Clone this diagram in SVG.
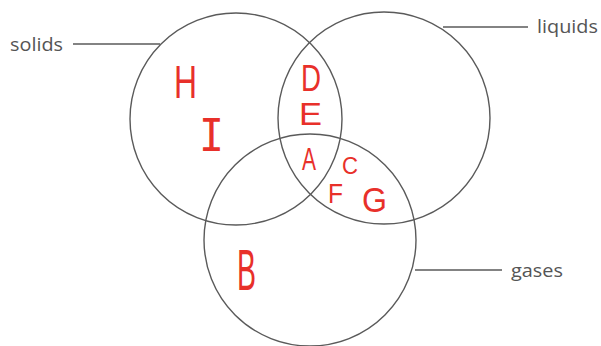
<svg xmlns="http://www.w3.org/2000/svg" width="601" height="346" viewBox="0 0 601 346">
<style>
.c{fill:none;stroke:#5a5a5a;stroke-width:1.4}
.l{stroke:#5a5a5a;stroke-width:1.4}
.t{font-family:"Open Sans","DejaVu Sans",sans-serif;font-size:19px;fill:#555}
.r{font-family:"Liberation Sans",Arial,sans-serif;fill:#e8302a}
.m{font-family:"DejaVu Sans Mono","Liberation Mono",monospace;fill:#e8302a}
</style>
<rect width="601" height="346" fill="#fff"/>
<g id="solids">
<circle class="c" cx="236" cy="119" r="106"/>
<text class="t" x="10" y="51" textLength="53" lengthAdjust="spacingAndGlyphs">solids</text>
</g>
<g id="liquids">
<circle class="c" cx="384" cy="118" r="106"/>
<text class="t" x="537" y="33" textLength="61" lengthAdjust="spacingAndGlyphs">liquids</text>
</g>
<g id="gases">
<circle class="c" cx="310" cy="240" r="106"/>
<text class="t" x="511" y="277" textLength="52" lengthAdjust="spacingAndGlyphs">gases</text>
</g>
<g id="connectors">
<line class="l" x1="73" y1="44" x2="160" y2="44"/>
<line class="l" x1="443" y1="27" x2="528" y2="27"/>
<line class="l" x1="415" y1="270" x2="502" y2="270"/>
</g>
<g id="letters">
<text class="r" x="174" y="98" font-size="46" textLength="23" lengthAdjust="spacingAndGlyphs">H</text>
<text class="m" x="199" y="151" font-size="44" textLength="25" lengthAdjust="spacingAndGlyphs">I</text>
<text class="r" x="301" y="91" font-size="36" textLength="20" lengthAdjust="spacingAndGlyphs">D</text>
<text class="r" x="299" y="125" font-size="31" textLength="23" lengthAdjust="spacingAndGlyphs">E</text>
<text class="r" x="302" y="170" font-size="32" textLength="14" lengthAdjust="spacingAndGlyphs">A</text>
<text class="r" x="342" y="174" font-size="24" textLength="16" lengthAdjust="spacingAndGlyphs">C</text>
<text class="r" x="328" y="203" font-size="28" textLength="15" lengthAdjust="spacingAndGlyphs">F</text>
<text class="r" x="362" y="212" font-size="35" textLength="25" lengthAdjust="spacingAndGlyphs">G</text>
<text class="r" x="237" y="290" font-size="58" textLength="19" lengthAdjust="spacingAndGlyphs">B</text>
</g>
</svg>
